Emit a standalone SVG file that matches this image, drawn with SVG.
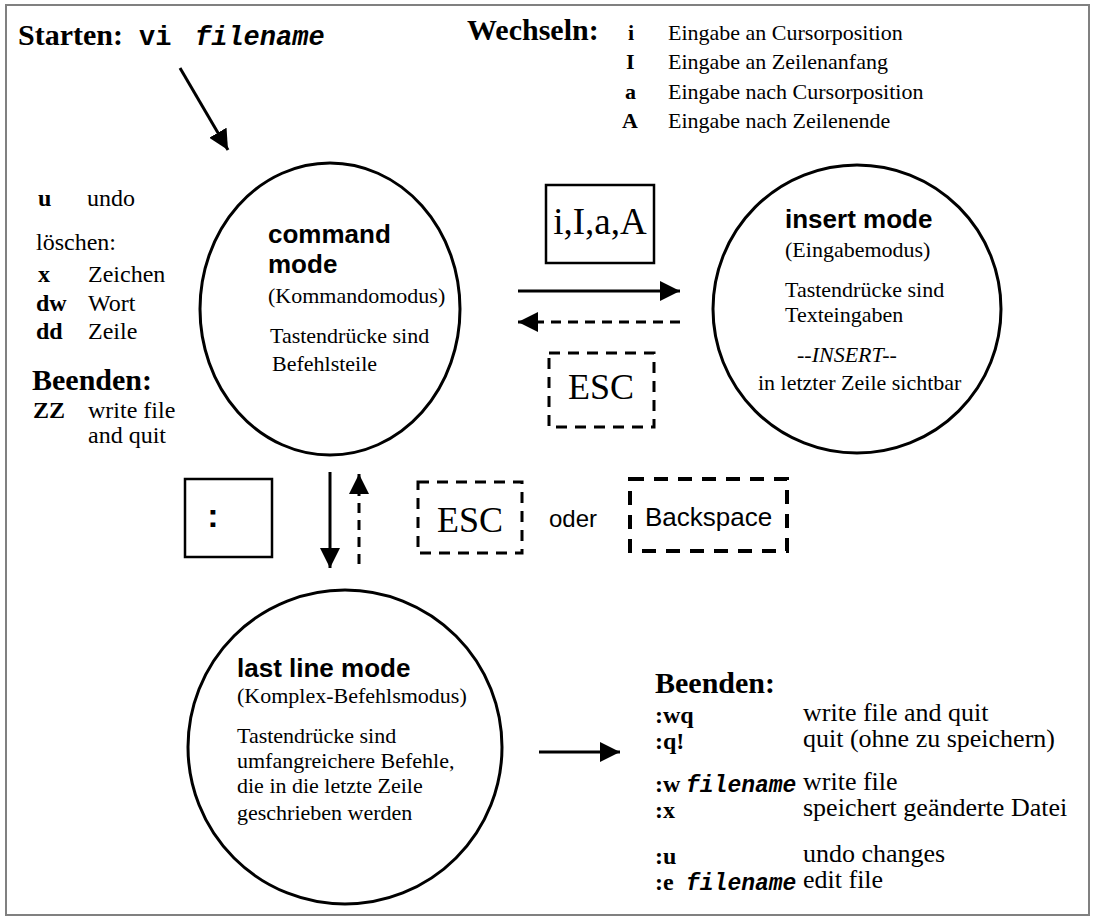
<svg xmlns="http://www.w3.org/2000/svg" width="1097" height="919" viewBox="0 0 1097 919">
<style>
.t{font-family:"Liberation Serif","Times New Roman",serif;fill:#000}
.tb{font-family:"Liberation Serif","Times New Roman",serif;font-weight:bold;fill:#000}
.a{font-family:"Liberation Sans",Arial,sans-serif;fill:#000}
.ab{font-family:"Liberation Sans",Arial,sans-serif;font-weight:bold;fill:#000}
.m{font-family:"Liberation Mono","Courier New",monospace;font-weight:bold;fill:#000}
.mi{font-family:"Liberation Mono","Courier New",monospace;font-weight:bold;font-style:italic;fill:#000}
.title{font-size:30px}
.s22{font-size:22px}
.s24{font-size:24px}
.s26{font-size:26px}
.node{fill:#fff;stroke:#000;stroke-width:3}
.box{fill:#fff;stroke:#000;stroke-width:2.5}
.dbox{fill:none;stroke:#000;stroke-width:3;stroke-dasharray:11 8}
.line{stroke:#000;stroke-width:3;fill:none}
.dline{stroke:#000;stroke-width:3;fill:none;stroke-dasharray:10 7}
</style>
<defs>
<marker id="ah" viewBox="0 0 20 20" refX="20" refY="10" markerWidth="20" markerHeight="20" markerUnits="userSpaceOnUse" orient="auto">
<path d="M0,0 L20,10 L0,20 Z" fill="#000"/>
</marker>
</defs>
<rect x="6" y="5" width="1083" height="910" fill="#fff" stroke="#808080" stroke-width="2"/>

<g id="start">
<text class="tb title" x="18" y="45">Starten:</text>
<text class="m" x="139" y="45" font-size="27">vi</text>
<text class="mi" x="195" y="45" font-size="27">filename</text>
</g>

<g id="switch">
<text class="tb title" x="467" y="40">Wechseln:</text>
<text class="tb s22" x="628" y="40">i</text>
<text class="t s22" x="668" y="40">Eingabe an Cursorposition</text>
<text class="tb s22" x="626" y="69">I</text>
<text class="t s22" x="668" y="69">Eingabe an Zeilenanfang</text>
<text class="tb s22" x="625" y="99">a</text>
<text class="t s22" x="668" y="99">Eingabe nach Cursorposition</text>
<text class="tb s22" x="622" y="128">A</text>
<text class="t s22" x="668" y="128">Eingabe nach Zeilenende</text>
</g>

<g id="left-commands">
<text class="tb s24" x="38" y="206">u</text>
<text class="t s24" x="87" y="206">undo</text>
<text class="t s24" x="36" y="250">löschen:</text>
<text class="tb s24" x="38" y="282">x</text>
<text class="t s24" x="88" y="282">Zeichen</text>
<text class="tb s24" x="36" y="311">dw</text>
<text class="t s24" x="88" y="311">Wort</text>
<text class="tb s24" x="36" y="339">dd</text>
<text class="t s24" x="88" y="339">Zeile</text>
<text class="tb title" x="32" y="390">Beenden:</text>
<text class="tb s24" x="33" y="418">ZZ</text>
<text class="t s24" x="88" y="418">write file</text>
<text class="t s24" x="88" y="443">and quit</text>
</g>

<g id="command-mode">
<ellipse class="node" cx="330" cy="309" rx="130" ry="146"/>
<text class="ab" font-size="26" x="268" y="243">command</text>
<text class="ab" font-size="26" x="268" y="273">mode</text>
<text class="t s22" x="268" y="303">(Kommandomodus)</text>
<text class="t s22" x="270" y="343">Tastendrücke sind</text>
<text class="t s22" x="272" y="371">Befehlsteile</text>
</g>

<g id="insert-mode">
<circle class="node" cx="857" cy="309" r="144"/>
<text class="ab" font-size="26" x="785" y="228">insert mode</text>
<text class="t s22" x="785" y="257">(Eingabemodus)</text>
<text class="t s22" x="785" y="297">Tastendrücke sind</text>
<text class="t s22" x="785" y="322">Texteingaben</text>
<text class="t s22" x="797" y="362" font-style="italic">--INSERT--</text>
<text class="t s22" x="758" y="390">in letzter Zeile sichtbar</text>
</g>

<g id="last-line-mode">
<circle class="node" cx="345" cy="747" r="157"/>
<text class="ab" font-size="26" x="237" y="677">last line mode</text>
<text class="t s22" x="237" y="703">(Komplex-Befehlsmodus)</text>
<text class="t s22" x="237" y="743">Tastendrücke sind</text>
<text class="t s22" x="237" y="768">umfangreichere Befehle,</text>
<text class="t s22" x="237" y="793">die in die letzte Zeile</text>
<text class="t s22" x="237" y="820">geschrieben werden</text>
</g>

<g id="key-iIaA">
<rect class="box" x="546" y="185" width="108" height="78"/>
<text class="t" font-size="37" x="600" y="234" text-anchor="middle">i,I,a,A</text>
</g>

<g id="key-esc-top">
<rect class="dbox" x="549" y="353" width="105" height="74"/>
<text class="t" font-size="36" x="601" y="399" text-anchor="middle">ESC</text>
</g>

<g id="key-colon">
<rect class="box" x="185" y="479" width="87" height="78"/>
<text class="ab" font-size="34" x="213" y="527" text-anchor="middle">:</text>
</g>

<g id="key-esc-mid">
<rect class="dbox" x="418" y="482" width="104" height="71"/>
<text class="t" font-size="36" x="470" y="532" text-anchor="middle">ESC</text>
</g>

<text class="a" font-size="24" x="549" y="527">oder</text>

<g id="key-backspace">
<rect x="630" y="479" width="157" height="72" fill="none" stroke="#000" stroke-width="4" stroke-dasharray="14 10"/>
<text class="a" font-size="26" x="645" y="526">Backspace</text>
</g>

<g id="quit-list">
<text class="tb title" x="655" y="693">Beenden:</text>
<text class="tb s24" x="655" y="723">:wq</text>
<text class="t s26" x="803" y="721">write file and quit</text>
<text class="tb s24" x="655" y="749">:q!</text>
<text class="t s26" x="803" y="747">quit (ohne zu speichern)</text>
<text class="tb s24" x="655" y="792">:w</text>
<text class="mi" font-size="23" x="686" y="792">filename</text>
<text class="t s26" x="803" y="790">write file</text>
<text class="tb s24" x="655" y="818">:x</text>
<text class="t s26" x="803" y="816">speichert geänderte Datei</text>
<text class="tb s24" x="655" y="864">:u</text>
<text class="t s26" x="803" y="862">undo changes</text>
<text class="tb s24" x="655" y="890">:e</text>
<text class="mi" font-size="23" x="686" y="890">filename</text>
<text class="t s26" x="803" y="888">edit file</text>
</g>

<g id="connectors">
<line class="line" x1="180" y1="68" x2="228" y2="150" marker-end="url(#ah)"/>
<line class="line" x1="518" y1="291" x2="680" y2="291" marker-end="url(#ah)"/>
<line class="dline" x1="680" y1="322" x2="518" y2="322" marker-end="url(#ah)"/>
<line class="line" x1="330" y1="472" x2="330" y2="568" marker-end="url(#ah)"/>
<line class="dline" x1="359" y1="564" x2="359" y2="474" marker-end="url(#ah)"/>
<line class="line" x1="539" y1="752" x2="620" y2="752" marker-end="url(#ah)"/>
</g>
</svg>
